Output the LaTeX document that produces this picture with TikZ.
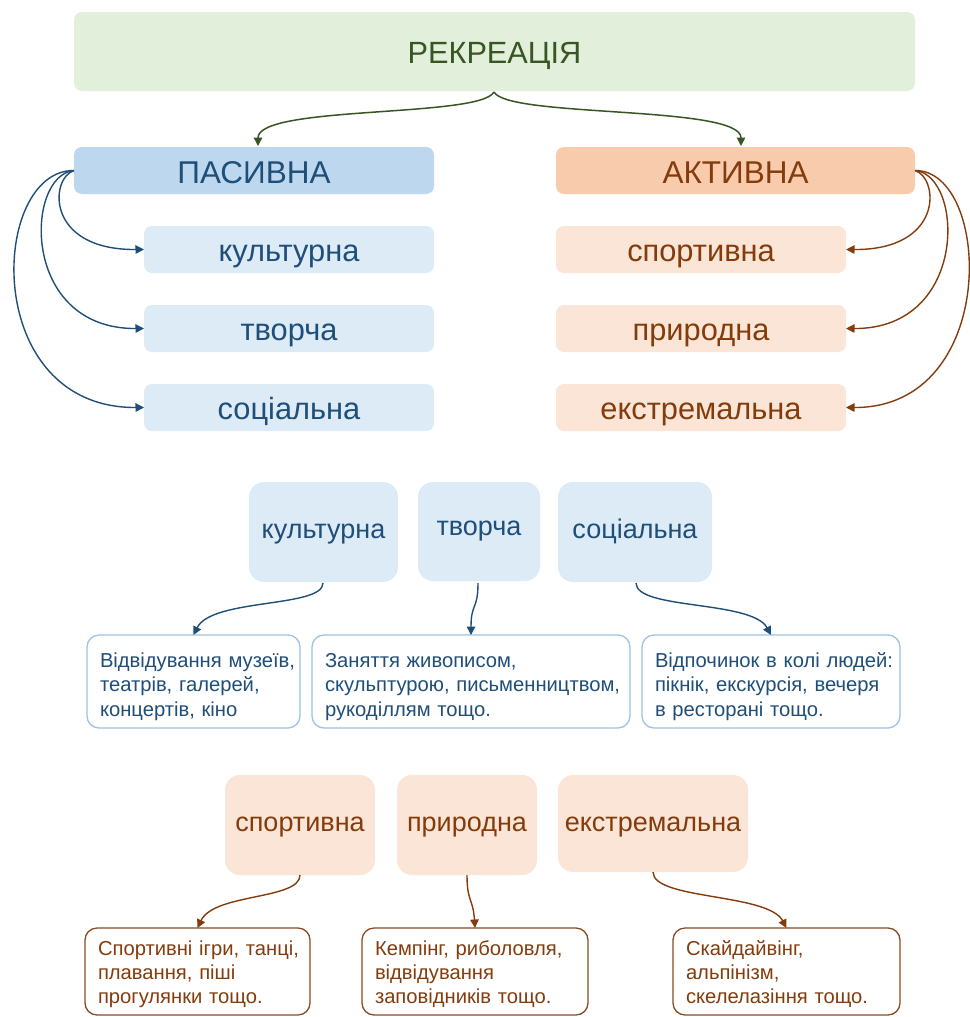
\documentclass[tikz,border=0pt]{standalone}
\usepackage{fontspec}
\setmainfont{Liberation Sans}
\usetikzlibrary{arrows.meta}
\definecolor{gfill}{HTML}{E2EFDA}
\definecolor{gtext}{HTML}{375623}
\definecolor{bfill}{HTML}{BDD7EE}
\definecolor{blight}{HTML}{DDEBF7}
\definecolor{btext}{HTML}{1F4E79}
\definecolor{bborder}{HTML}{9DC3E6}
\definecolor{ofill}{HTML}{F8CBAD}
\definecolor{olight}{HTML}{FBE5D6}
\definecolor{otext}{HTML}{843C0C}
\definecolor{oborder}{HTML}{8A4A22}
\newcommand\oneline[1]{\mbox{#1}}
\tikzset{
  every node/.style={inner sep=0pt, outer sep=0pt},
  topbox/.style={rectangle, rounded corners=8pt, text depth=0pt, text height=25pt, font=\fontsize{31.5}{36}\selectfont},
  subbox/.style={rectangle, rounded corners=8pt, minimum width=290pt, minimum height=47pt, text depth=0pt, text height=24.4pt, font=\fontsize{30.8}{36}\selectfont},
  midbox/.style={rectangle, rounded corners=15pt, minimum height=100pt, text depth=0pt, text height=12.6pt, font=\fontsize{27}{32}\selectfont},
  txtbox/.style={rectangle, rounded corners=12pt, draw, line width=1.3pt, fill=white, align=left},
  txtup/.style={txtbox, draw=bborder, text=btext, minimum height=93pt, font=\fontsize{20.2}{24.5}\selectfont, execute at begin node={\rule{0pt}{24.5pt}}},
  txtdn/.style={txtbox, draw=oborder, text=otext, minimum height=87pt, font=\fontsize{20.2}{24}\selectfont, execute at begin node={\rule{0pt}{19.5pt}}},
  tip/.style={-{Triangle[length=8.5pt,width=8.5pt]}},
  garrow/.style={tip, color=gtext, line width=1.5pt},
  barrow/.style={tip, color=btext, line width=1.4pt},
  oarrow/.style={tip, color=otext, line width=1.4pt},
}
\begin{document}
\begin{tikzpicture}[x=1pt,y=-1pt]
\useasboundingbox[fill=white] (0,0) rectangle (969,1017);
% top
\node[topbox, fill=gfill, text=gtext, minimum width=841pt, minimum height=79pt, text height=23pt, font=\fontsize{30.7}{36}\selectfont] (rec) at (494.5,51.5) {РЕКРЕАЦІЯ};
\node[topbox, fill=bfill, text=btext, minimum width=360pt, minimum height=47pt] (pas) at (254,170.5) {ПАСИВНА};
\node[topbox, fill=ofill, text=otext, minimum width=359pt, minimum height=47pt] (act) at (735.5,170.5) {АКТИВНА};
\node[subbox, fill=blight, text=btext] (pc) at (289,249.5) {культурна};
\node[subbox, fill=blight, text=btext] (pt) at (289,328.5) {творча};
\node[subbox, fill=blight, text=btext] (ps) at (289,407.5) {соціальна};
\node[subbox, fill=olight, text=otext] (as) at (701,249.5) {спортивна};
\node[subbox, fill=olight, text=otext] (an) at (701,328.5) {природна};
\node[subbox, fill=olight, text=otext] (ae) at (701,407.5) {екстремальна};
\coordinate (recb) at (494,92);
\coordinate (past) at (258,146);
\coordinate (actt) at (741,146);
\draw[garrow] (recb) .. controls (480,118) and (258,105) .. (past);
\draw[garrow] (recb) .. controls (508,118) and (741,105) .. (actt);
\draw[barrow] (pas.west) .. controls (50,178) and (45,250) .. (pc.west);
\draw[barrow] (pas.west) .. controls (25,175) and (20,329) .. (pt.west);
\draw[barrow] (pas.west) .. controls (-10,170) and (-20,408) .. (ps.west);
\draw[oarrow] (act.east) .. controls (939,178) and (944,250) .. (as.east);
\draw[oarrow] (act.east) .. controls (964,175) and (969,329) .. (an.east);
\draw[oarrow] (act.east) .. controls (992,170) and (1000,408) .. (ae.east);
% middle
\node[midbox, fill=blight, text=btext, minimum width=149pt] (mc) at (323.5,532) {культурна};
\node[midbox, fill=blight, text=btext, minimum width=122pt, minimum height=99pt, text height=7pt] (mt) at (479,531.5) {творча};
\node[midbox, fill=blight, text=btext, minimum width=154pt] (ms) at (635,532) {соціальна};
\node[txtup, minimum width=213pt, text width=187pt] (dc) at (193.5,681.5) {\oneline{Відвідування музеїв,}\\\oneline{театрів, галерей,}\\\oneline{концертів, кіно}};
\node[txtup, minimum width=318pt, text width=292pt] (dt) at (471,681.5) {\oneline{Заняття живописом,}\\\oneline{скульптурою, письменництвом,}\\\oneline{рукоділлям тощо.}};
\node[txtup, minimum width=258pt, text width=232pt] (ds) at (771,681.5) {\oneline{Відпочинок в колі людей:}\\\oneline{пікнік, екскурсія, вечеря}\\\oneline{в ресторані тощо.}};
\coordinate (mcb) at (323,583);
\coordinate (mtb) at (478,583);
\coordinate (msb) at (636,583);
\draw[barrow] (mcb) .. controls (323,608) and (212,598) .. (dc.north);
\draw[barrow] (mtb) .. controls (478,610) and (471,603) .. (dt.north);
\draw[barrow] (msb) .. controls (636,610) and (752,600) .. (ds.north);
% bottom
\node[midbox, fill=olight, text=otext, minimum width=150pt, text height=13.4pt] (bs) at (300,825) {спортивна};
\node[midbox, fill=olight, text=otext, minimum width=140pt, text height=13.4pt] (bn) at (467,825) {природна};
\node[midbox, fill=olight, text=otext, minimum width=190pt, minimum height=97pt, text height=16.4pt] (be) at (653,823.5) {екстремальна};
\node[txtdn, minimum width=225pt, text width=199pt] (es) at (197.5,971.5) {\oneline{Спортивні ігри, танці,}\\\oneline{плавання, піші}\\\oneline{прогулянки тощо.}};
\node[txtdn, minimum width=226pt, text width=200pt] (en) at (475,971.5) {\oneline{Кемпінг, риболовля,}\\\oneline{відвідування}\\\oneline{заповідників тощо.}};
\node[txtdn, minimum width=227pt, text width=201pt] (ee) at (786.5,971.5) {\oneline{Скайдайвінг,}\\\oneline{альпінізм,}\\\oneline{скелелазіння тощо.}};
\coordinate (bsb) at (300,875);
\coordinate (bnb) at (467,875);
\coordinate (beb) at (653,872);
\draw[oarrow] (bsb) .. controls (300,900) and (214,893) .. (es.north);
\draw[oarrow] (bnb) .. controls (467,902) and (473,898) .. (en.north);
\draw[oarrow] (beb) .. controls (653,900) and (768,893) .. (ee.north);
\end{tikzpicture}
\end{document}
